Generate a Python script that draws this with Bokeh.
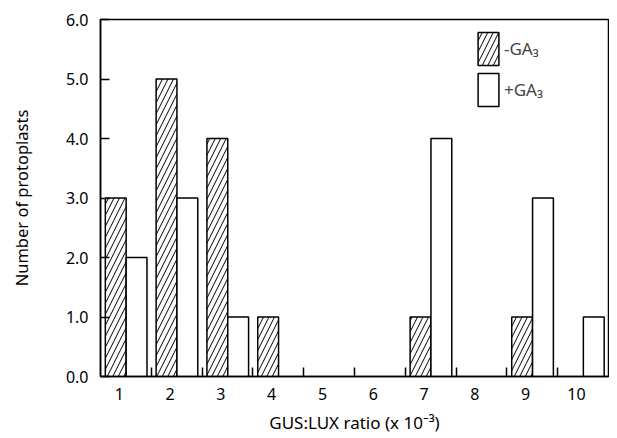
from bokeh.plotting import figure
from bokeh.models import (LinearAxis, FixedTicker, Range1d, Legend, LegendItem,
                          NumeralTickFormatter, CustomJSTickFormatter, ColumnDataSource)
from bokeh.embed import file_html
from bokeh.resources import INLINE

# ---- data ----
categories = [1, 2, 3, 4, 5, 6, 7, 8, 9, 10]
minus_ga3 = [3, 5, 4, 1, 0, 0, 1, 0, 1, 0]
plus_ga3 = [2, 3, 1, 0, 0, 0, 4, 0, 3, 1]
y_ticks = [0, 1, 2, 3, 4, 5, 6]
x_label = "GUS:LUX ratio (x 10\u207b\u00b3)"
y_label = "Number of protoplasts"
legend_labels = ["-GA\u2083", "+GA\u2083"]

FONT = "Noto Sans"
BAR_W = 0.41

def nonzero(vals, shift):
    xs, tops = [], []
    for c, v in zip(categories, vals):
        if v > 0:
            xs.append(c + shift)
            tops.append(v)
    return ColumnDataSource(dict(x=xs, top=tops))

src_minus = nonzero(minus_ga3, -0.2)
src_plus = nonzero(plus_ga3, 0.21)

p = figure(width=609, height=436, output_backend="svg", toolbar_location=None,
           x_range=Range1d(0.5, 10.5), y_range=Range1d(0, 6),
           x_axis_location=None, min_border_left=100, min_border_right=1,
           min_border_top=19, min_border_bottom=58)
p.xgrid.visible = False
p.ygrid.visible = False
p.outline_line_color = "black"
p.outline_line_width = 1.5
p.background_fill_color = "white"
p.border_fill_color = "white"

r_minus = p.vbar(x="x", top="top", width=BAR_W, bottom=0, source=src_minus,
                 fill_color="white", line_color="black", line_width=1.5,
                 hatch_pattern="/", hatch_color="black", hatch_scale=11, hatch_weight=1)
r_plus = p.vbar(x="x", top="top", width=BAR_W, bottom=0, source=src_plus,
                fill_color="white", line_color="black", line_width=1.5)

# y axis
ya = p.yaxis[0]
ya.ticker = FixedTicker(ticks=y_ticks)
ya.formatter = NumeralTickFormatter(format="0.0")
ya.major_tick_in = 9
ya.major_tick_out = 0
ya.minor_tick_line_color = None
ya.major_tick_line_width = 1.5
ya.axis_line_width = 1.5
ya.major_label_standoff = 12
ya.major_label_text_font = FONT
ya.major_label_text_font_size = "16px"
ya.major_label_text_color = "black"
ya.axis_label = y_label
ya.axis_label_text_font = FONT
ya.axis_label_text_font_size = "16.5px"
ya.axis_label_text_font_style = "normal"
ya.axis_label_text_color = "black"
ya.axis_label_standoff = 30

# x axis: boundary ticks (no labels)
boundaries = [c + 0.5 for c in categories[:-1]]
xa_ticks = LinearAxis(ticker=FixedTicker(ticks=boundaries, minor_ticks=[]),
                      formatter=CustomJSTickFormatter(code="return '';"),
                      major_tick_in=9, major_tick_out=0, major_tick_line_width=1.5,
                      axis_line_width=1.5, minor_tick_line_color=None,
                      major_label_standoff=0)
p.add_layout(xa_ticks, "below")

# x axis: category labels
label_pos = [c - 0.13 for c in categories]
xa_labels = LinearAxis(ticker=FixedTicker(ticks=label_pos, minor_ticks=[]),
                       formatter=CustomJSTickFormatter(code="return Math.round(tick).toString();"),
                       major_tick_in=0, major_tick_out=0, minor_tick_line_color=None,
                       axis_line_color=None, major_label_standoff=11,
                       major_label_text_font=FONT, major_label_text_font_size="16px",
                       major_label_text_color="black",
                       axis_label=x_label, axis_label_text_font=FONT,
                       axis_label_text_font_size="17px", axis_label_text_font_style="normal",
                       axis_label_text_color="black",
                       axis_label_standoff=8)
p.add_layout(xa_labels, "below")

legend = Legend(items=[LegendItem(label=legend_labels[0], renderers=[r_minus]),
                       LegendItem(label=legend_labels[1], renderers=[r_plus])],
                location=(375, 266), glyph_width=26, glyph_height=41, spacing=0,
                padding=0, margin=0, label_standoff=3, border_line_color=None,
                background_fill_alpha=0, label_text_font=FONT,
                label_text_font_size="17px", label_height=41)
p.add_layout(legend)

open("out.html", "w").write(file_html(p, INLINE))
